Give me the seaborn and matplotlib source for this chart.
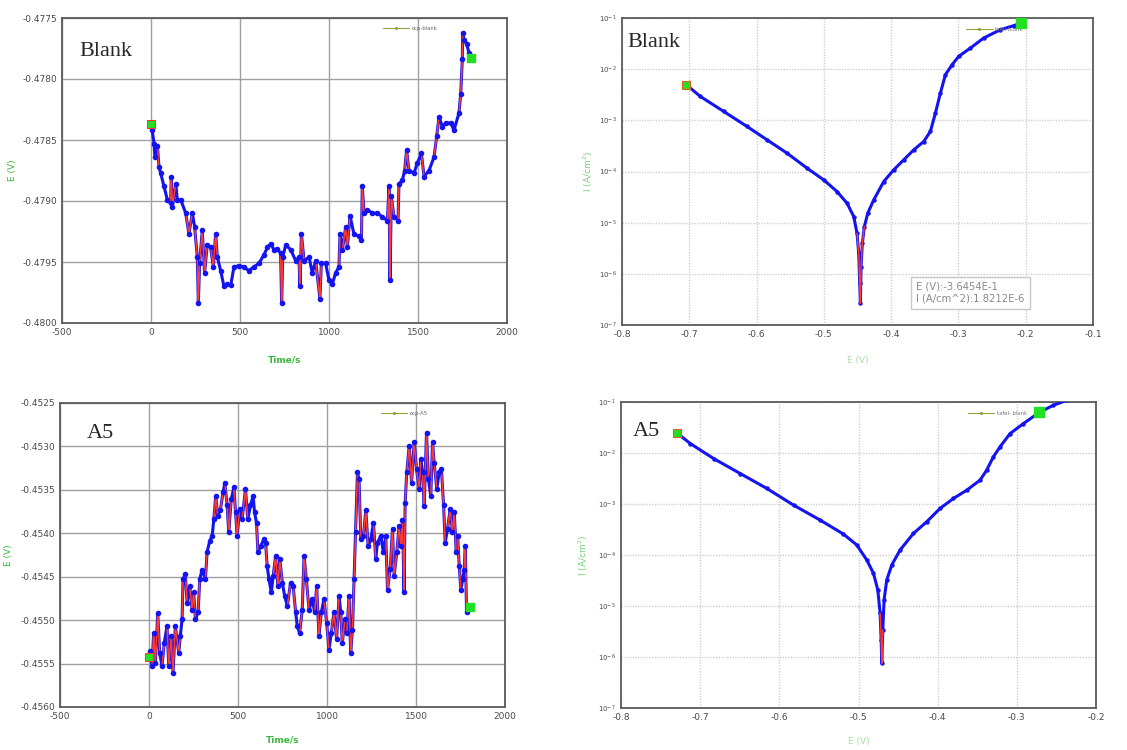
import numpy as np
import pandas as pd
import seaborn as sns
import matplotlib.pyplot as plt
from matplotlib.lines import Line2D
from matplotlib.ticker import MultipleLocator, FormatStrFormatter, LogLocator

# --- OCP, blank ---
t_blank = [0, 7, 17, 22, 36, 45, 54, 73, 92, 110, 114, 120, 139, 148, 167, 195, 213, 232, 245, 260,
           266, 273, 288, 301, 316, 335, 350, 363, 373, 391, 410, 429, 448, 466, 494, 522, 549, 579,
           607, 635, 654, 672, 691, 710, 728, 734, 740, 757, 785, 813, 831, 837, 845, 860, 888, 906,
           925, 949, 957, 981, 1000, 1019, 1037, 1056, 1062, 1075, 1094, 1103, 1118, 1140, 1169, 1182,
           1187, 1197, 1215, 1243, 1272, 1300, 1328, 1337, 1343, 1350, 1365, 1388, 1393, 1412, 1425,
           1436, 1449, 1478, 1496, 1519, 1534, 1562, 1590, 1605, 1618, 1637, 1655, 1684, 1702, 1730,
           1740, 1749, 1751, 1758, 1773, 1787, 1800]
e_blank = [-0.47837, -0.47842, -0.47853, -0.47864, -0.47855, -0.47872, -0.47877, -0.47888, -0.47899,
           -0.47902, -0.47880, -0.47905, -0.47886, -0.47899, -0.47899, -0.47910, -0.47927, -0.47910,
           -0.47921, -0.47946, -0.47984, -0.47951, -0.47924, -0.47959, -0.47936, -0.47938, -0.47954,
           -0.47927, -0.47946, -0.47957, -0.47970, -0.47968, -0.47969, -0.47954, -0.47953, -0.47954,
           -0.47957, -0.47954, -0.47951, -0.47944, -0.47938, -0.47935, -0.47940, -0.47939, -0.47943,
           -0.47984, -0.47946, -0.47936, -0.47940, -0.47949, -0.47946, -0.47970, -0.47927, -0.47949,
           -0.47946, -0.47959, -0.47949, -0.47980, -0.47951, -0.47951, -0.47965, -0.47968, -0.47959,
           -0.47954, -0.47927, -0.47940, -0.47921, -0.47938, -0.47912, -0.47927, -0.47929, -0.47932,
           -0.47888, -0.47910, -0.47907, -0.47910, -0.47910, -0.47913, -0.47916, -0.47888, -0.47965,
           -0.47896, -0.47913, -0.47916, -0.47886, -0.47883, -0.47875, -0.47858, -0.47875, -0.47877,
           -0.47869, -0.47861, -0.47880, -0.47875, -0.47864, -0.47847, -0.47831, -0.47839, -0.47836,
           -0.47836, -0.47842, -0.47828, -0.47812, -0.47784, -0.47762, -0.47768, -0.47771, -0.47779,
           -0.47783]

# --- OCP, A5 ---
t_a5 = [0, 8, 17, 26, 36, 49, 60, 73, 86, 101, 111, 124, 135, 148, 167, 176, 186, 191, 204, 214, 229,
        242, 251, 261, 276, 285, 298, 317, 326, 341, 355, 364, 375, 386, 401, 416, 426, 439, 448, 462,
        477, 486, 495, 510, 523, 542, 555, 570, 585, 593, 604, 612, 627, 645, 655, 664, 674, 687, 698,
        711, 724, 735, 749, 762, 777, 795, 810, 824, 833, 846, 861, 871, 884, 899, 917, 931, 942, 955,
        968, 983, 998, 1011, 1024, 1039, 1054, 1068, 1077, 1086, 1101, 1111, 1124, 1133, 1143, 1152,
        1161, 1171, 1180, 1190, 1205, 1218, 1231, 1246, 1261, 1274, 1283, 1302, 1317, 1330, 1340, 1355,
        1368, 1377, 1392, 1405, 1415, 1424, 1433, 1439, 1448, 1462, 1475, 1490, 1503, 1518, 1527, 1537,
        1546, 1559, 1570, 1583, 1593, 1602, 1617, 1630, 1643, 1655, 1664, 1677, 1692, 1705, 1715, 1726,
        1734, 1743, 1752, 1762, 1771, 1777, 1784, 1790, 1805]
e_a5 = [-0.45543, -0.45536, -0.45553, -0.45515, -0.45549, -0.45492, -0.45538, -0.45553, -0.45526,
        -0.45507, -0.45553, -0.45518, -0.45561, -0.45507, -0.45538, -0.45518, -0.45499, -0.45453,
        -0.45447, -0.45480, -0.45461, -0.45488, -0.45468, -0.45499, -0.45491, -0.45453, -0.45442,
        -0.45453, -0.45422, -0.45409, -0.45403, -0.45384, -0.45357, -0.45380, -0.45373, -0.45353,
        -0.45342, -0.45368, -0.45399, -0.45361, -0.45347, -0.45376, -0.45403, -0.45372, -0.45384,
        -0.45349, -0.45384, -0.45368, -0.45357, -0.45376, -0.45388, -0.45422, -0.45415, -0.45407,
        -0.45411, -0.45438, -0.45453, -0.45468, -0.45449, -0.45426, -0.45461, -0.45430, -0.45457,
        -0.45472, -0.45484, -0.45457, -0.45461, -0.45491, -0.45507, -0.45515, -0.45488, -0.45426,
        -0.45453, -0.45488, -0.45476, -0.45491, -0.45461, -0.45518, -0.45491, -0.45476, -0.45503,
        -0.45534, -0.45515, -0.45491, -0.45522, -0.45472, -0.45491, -0.45526, -0.45499, -0.45515,
        -0.45472, -0.45538, -0.45511, -0.45453, -0.45399, -0.45330, -0.45338, -0.45407, -0.45403,
        -0.45373, -0.45415, -0.45407, -0.45388, -0.45430, -0.45411, -0.45403, -0.45422, -0.45403,
        -0.45465, -0.45441, -0.45395, -0.45449, -0.45422, -0.45392, -0.45415, -0.45385, -0.45468,
        -0.45365, -0.45330, -0.45299, -0.45342, -0.45295, -0.45326, -0.45349, -0.45315, -0.45330,
        -0.45369, -0.45284, -0.45338, -0.45357, -0.45295, -0.45319, -0.45349, -0.45330, -0.45326,
        -0.45368, -0.45411, -0.45395, -0.45372, -0.45399, -0.45376, -0.45422, -0.45403, -0.45438,
        -0.45465, -0.45453, -0.45442, -0.45415, -0.45491, -0.45484, -0.45485]

# --- Tafel, blank (E in V, log10 of I in A/cm^2) ---
tafel_e_blank = [-0.7044, -0.6836, -0.6489, -0.6142, -0.5845, -0.5547, -0.5250, -0.5002, -0.4804,
                 -0.4655, -0.4556, -0.4507, -0.4482, -0.4467, -0.4457, -0.4447, -0.4428, -0.4398,
                 -0.4348, -0.4259, -0.4110, -0.3962, -0.3813, -0.3664, -0.3516, -0.3417, -0.3342,
                 -0.3268, -0.3194, -0.3094, -0.2996, -0.2822, -0.2624, -0.2376, -0.2178, -0.2069]
tafel_logi_blank = [-2.305, -2.533, -2.826, -3.120, -3.381, -3.642, -3.935, -4.164, -4.392, -4.620,
                    -4.881, -5.207, -5.599, -6.186, -6.577, -5.860, -5.403, -5.077, -4.816, -4.555,
                    -4.196, -3.968, -3.772, -3.577, -3.414, -3.218, -2.859, -2.468, -2.109, -1.913,
                    -1.750, -1.587, -1.391, -1.228, -1.150, -1.098]

# --- Tafel, A5 ---
tafel_e_a5 = [-0.7293, -0.7125, -0.6830, -0.6494, -0.6157, -0.5821, -0.5484, -0.5190, -0.5021,
              -0.4895, -0.4811, -0.4756, -0.4727, -0.4714, -0.4706, -0.4693, -0.4677, -0.4643,
              -0.4580, -0.4475, -0.4306, -0.4138, -0.3970, -0.3801, -0.3633, -0.3465, -0.3381,
              -0.3297, -0.3213, -0.3086, -0.2918, -0.2708, -0.2539, -0.2371]
tafel_logi_a5 = [-1.607, -1.815, -2.109, -2.403, -2.696, -3.022, -3.316, -3.590, -3.805, -4.099,
                 -4.359, -4.686, -5.142, -5.664, -6.121, -5.468, -4.881, -4.490, -4.196, -3.903,
                 -3.577, -3.348, -3.087, -2.892, -2.729, -2.533, -2.337, -2.076, -1.881, -1.620,
                 -1.424, -1.196, -1.065, -0.967]
tafel_a5_end_marker = (-0.2716, -1.196)

sns.set_style("white")
plt.rcParams['font.family'] = ['DejaVu Sans']
plt.rcParams['axes.unicode_minus'] = False

W, H = 1127, 750
fig = plt.figure(figsize=(W / 100, H / 100), dpi=100)


def box(left, top, right, bottom):
    return [left / W, 1 - bottom / H, (right - left) / W, (bottom - top) / H]


ax_tl = fig.add_axes(box(62, 18, 507, 323))
ax_tr = fig.add_axes(box(622, 18, 1093, 325))
ax_bl = fig.add_axes(box(60, 403, 505, 707))
ax_br = fig.add_axes(box(621, 402, 1096, 708))

RED = "#ff3b30"
BLUE = "#1414f0"
GREEN = "#22e022"
LABEL_GREEN = "#3cb83c"
TICK_GRAY = "#4a4a4a"


def style_axes(ax, grid_color, grid_ls):
    for s in ax.spines.values():
        s.set_color("#5a5a5a")
        s.set_linewidth(1.3)
    ax.grid(True, color=grid_color, lw=1.0, ls=grid_ls)
    ax.tick_params(which="both", direction="in", colors="#666666", labelcolor=TICK_GRAY,
                   labelsize=6.5, top=False, right=False)
    ax.tick_params(which="major", length=4)
    ax.tick_params(which="minor", length=2.5)


def jump_segments(x, y, thr):
    # pieces of the trace where the signal jumps a lot between two samples
    xs, ys = [], []
    for i in range(len(y) - 1):
        if abs(y[i + 1] - y[i]) > thr:
            xs += [x[i], x[i + 1], np.nan]
            ys += [y[i], y[i + 1], np.nan]
    return xs, ys


def draw_ocp(ax, t, e, name, thr):
    df = pd.DataFrame({"t": t, "E": e})
    sns.lineplot(data=df, x="t", y="E", ax=ax, color=BLUE, lw=2.2, sort=False, zorder=3)
    jx, jy = jump_segments(t, e, thr)
    ax.plot(jx, jy, color=RED, lw=1.1, zorder=4)
    ax.plot(df["t"], df["E"], ls="none", marker="o", ms=3.0, mfc=BLUE, mec=BLUE, zorder=5)
    ax.plot(df["t"].iloc[0], df["E"].iloc[0], marker="s", ms=6, mfc=GREEN, mec=RED, mew=0.8, zorder=6)
    ax.plot(df["t"].iloc[-1], df["E"].iloc[-1], marker="s", ms=6, mfc=GREEN, mec=GREEN, zorder=6)
    ax.set_xlim(-500, 2000)
    ax.xaxis.set_major_locator(MultipleLocator(500))
    ax.xaxis.set_minor_locator(MultipleLocator(250))
    ax.yaxis.set_major_locator(MultipleLocator(0.0005))
    ax.yaxis.set_major_formatter(FormatStrFormatter("%.4f"))
    style_axes(ax, "#a0a0a0", "-")
    ax.set_xlabel("Time/s", color=LABEL_GREEN, fontsize=6.5, fontweight="bold")
    ax.set_ylabel("E (V)", color=LABEL_GREEN, fontsize=6.5)
    handle = Line2D([], [], color="#8aa640", lw=0.8, marker=".", ms=2.5)
    ax.legend([handle], [name], loc="center left", bbox_to_anchor=(0.715, 0.965), frameon=False,
              fontsize=3.8, handlelength=5, labelcolor="#666666", borderpad=0, handletextpad=0.4)


def draw_tafel(ax, e, logi, name, xmax):
    df = pd.DataFrame({"E": e, "I": np.power(10.0, logi)})
    sns.lineplot(data=df, x="E", y="I", ax=ax, color=BLUE, lw=2.2, sort=False, zorder=3)
    ax.plot(df["E"], df["I"], ls="none", marker="o", ms=2.2, mfc=BLUE, mec=BLUE, zorder=4)
    dip = df[df["I"] < 10 ** -4.9]
    ax.plot(dip["E"], dip["I"], color=RED, lw=1.0, zorder=5)
    ax.plot(df["E"].iloc[0], df["I"].iloc[0], marker="s", ms=6, mfc=GREEN, mec="#e06020", mew=0.8, zorder=6)
    ax.set_yscale("log")
    ax.set_xlim(-0.8, xmax)
    ax.set_ylim(1e-7, 1e-1)
    ax.xaxis.set_major_locator(MultipleLocator(0.1))
    ax.xaxis.set_minor_locator(MultipleLocator(0.05))
    ax.xaxis.set_major_formatter(FormatStrFormatter("%.1f"))
    ax.yaxis.set_major_locator(LogLocator(base=10, numticks=10))
    ax.yaxis.set_minor_locator(LogLocator(base=10, subs=np.arange(2, 10), numticks=10))
    style_axes(ax, "#d0d0d0", (0, (1, 1)))
    ax.tick_params(axis="y", labelsize=5)
    ax.set_xlabel("E (V)", color=LABEL_GREEN, fontsize=6.5, alpha=0.45)
    ax.set_ylabel("I (A/cm$^2$)", color=LABEL_GREEN, fontsize=6.5, alpha=0.7)
    handle = Line2D([], [], color="#8aa640", lw=0.8, marker=".", ms=2.5)
    ax.legend([handle], [name], loc="center left", bbox_to_anchor=(0.725, 0.964), frameon=False,
              fontsize=3.8, handlelength=5, labelcolor="#777777", borderpad=0, handletextpad=0.4)


draw_ocp(ax_tl, t_blank, e_blank, "ocp-blank", 0.00015)
ax_tl.set_ylim(-0.4800, -0.4775)
ax_tl.yaxis.set_label_coords(-0.10, 0.5)
ax_tl.xaxis.set_label_coords(0.5, -0.105)

draw_ocp(ax_bl, t_a5, e_a5, "ocp-A5", 0.0002)
ax_bl.set_ylim(-0.4560, -0.4525)
ax_bl.yaxis.set_label_coords(-0.105, 0.5)
ax_bl.xaxis.set_label_coords(0.5, -0.095)

draw_tafel(ax_tr, tafel_e_blank, tafel_logi_blank, "tafel-blank", -0.1)
ax_tr.plot(tafel_e_blank[-1], 10 ** tafel_logi_blank[-1], marker="s", ms=7, mfc=GREEN, mec=GREEN, zorder=6)
ax_tr.yaxis.set_label_coords(-0.057, 0.5)
ax_tr.xaxis.set_label_coords(0.5, -0.1)
ax_tr.text(0.625, 0.105, "E (V):-3.6454E-1\nI (A/cm^2):1.8212E-6", transform=ax_tr.transAxes,
           fontsize=7.2, color="#8a8a8a", va="center", ha="left", linespacing=1.3, zorder=7,
           bbox=dict(boxstyle="square,pad=0.5", fc="white", ec="#c8c8c8", lw=1.0))

draw_tafel(ax_br, tafel_e_a5, tafel_logi_a5, "tafel- blank", -0.2)
ax_br.plot(tafel_a5_end_marker[0], 10 ** tafel_a5_end_marker[1], marker="s", ms=7, mfc=GREEN,
           mec=GREEN, zorder=6)
ax_br.yaxis.set_label_coords(-0.065, 0.5)
ax_br.xaxis.set_label_coords(0.5, -0.095)

serif = ["Liberation Serif", "DejaVu Serif"]
ax_tl.text(0.04, 0.89, "Blank", transform=ax_tl.transAxes, family=serif, fontsize=16, va="center", zorder=8)
ax_tr.text(0.012, 0.92, "Blank", transform=ax_tr.transAxes, family=serif, fontsize=16, va="center", zorder=8)
ax_bl.text(0.06, 0.90, "A5", transform=ax_bl.transAxes, family=serif, fontsize=16, va="center", zorder=8)
ax_br.text(0.025, 0.905, "A5", transform=ax_br.transAxes, family=serif, fontsize=16, va="center", zorder=8)

fig.savefig("out.png", dpi=100)
